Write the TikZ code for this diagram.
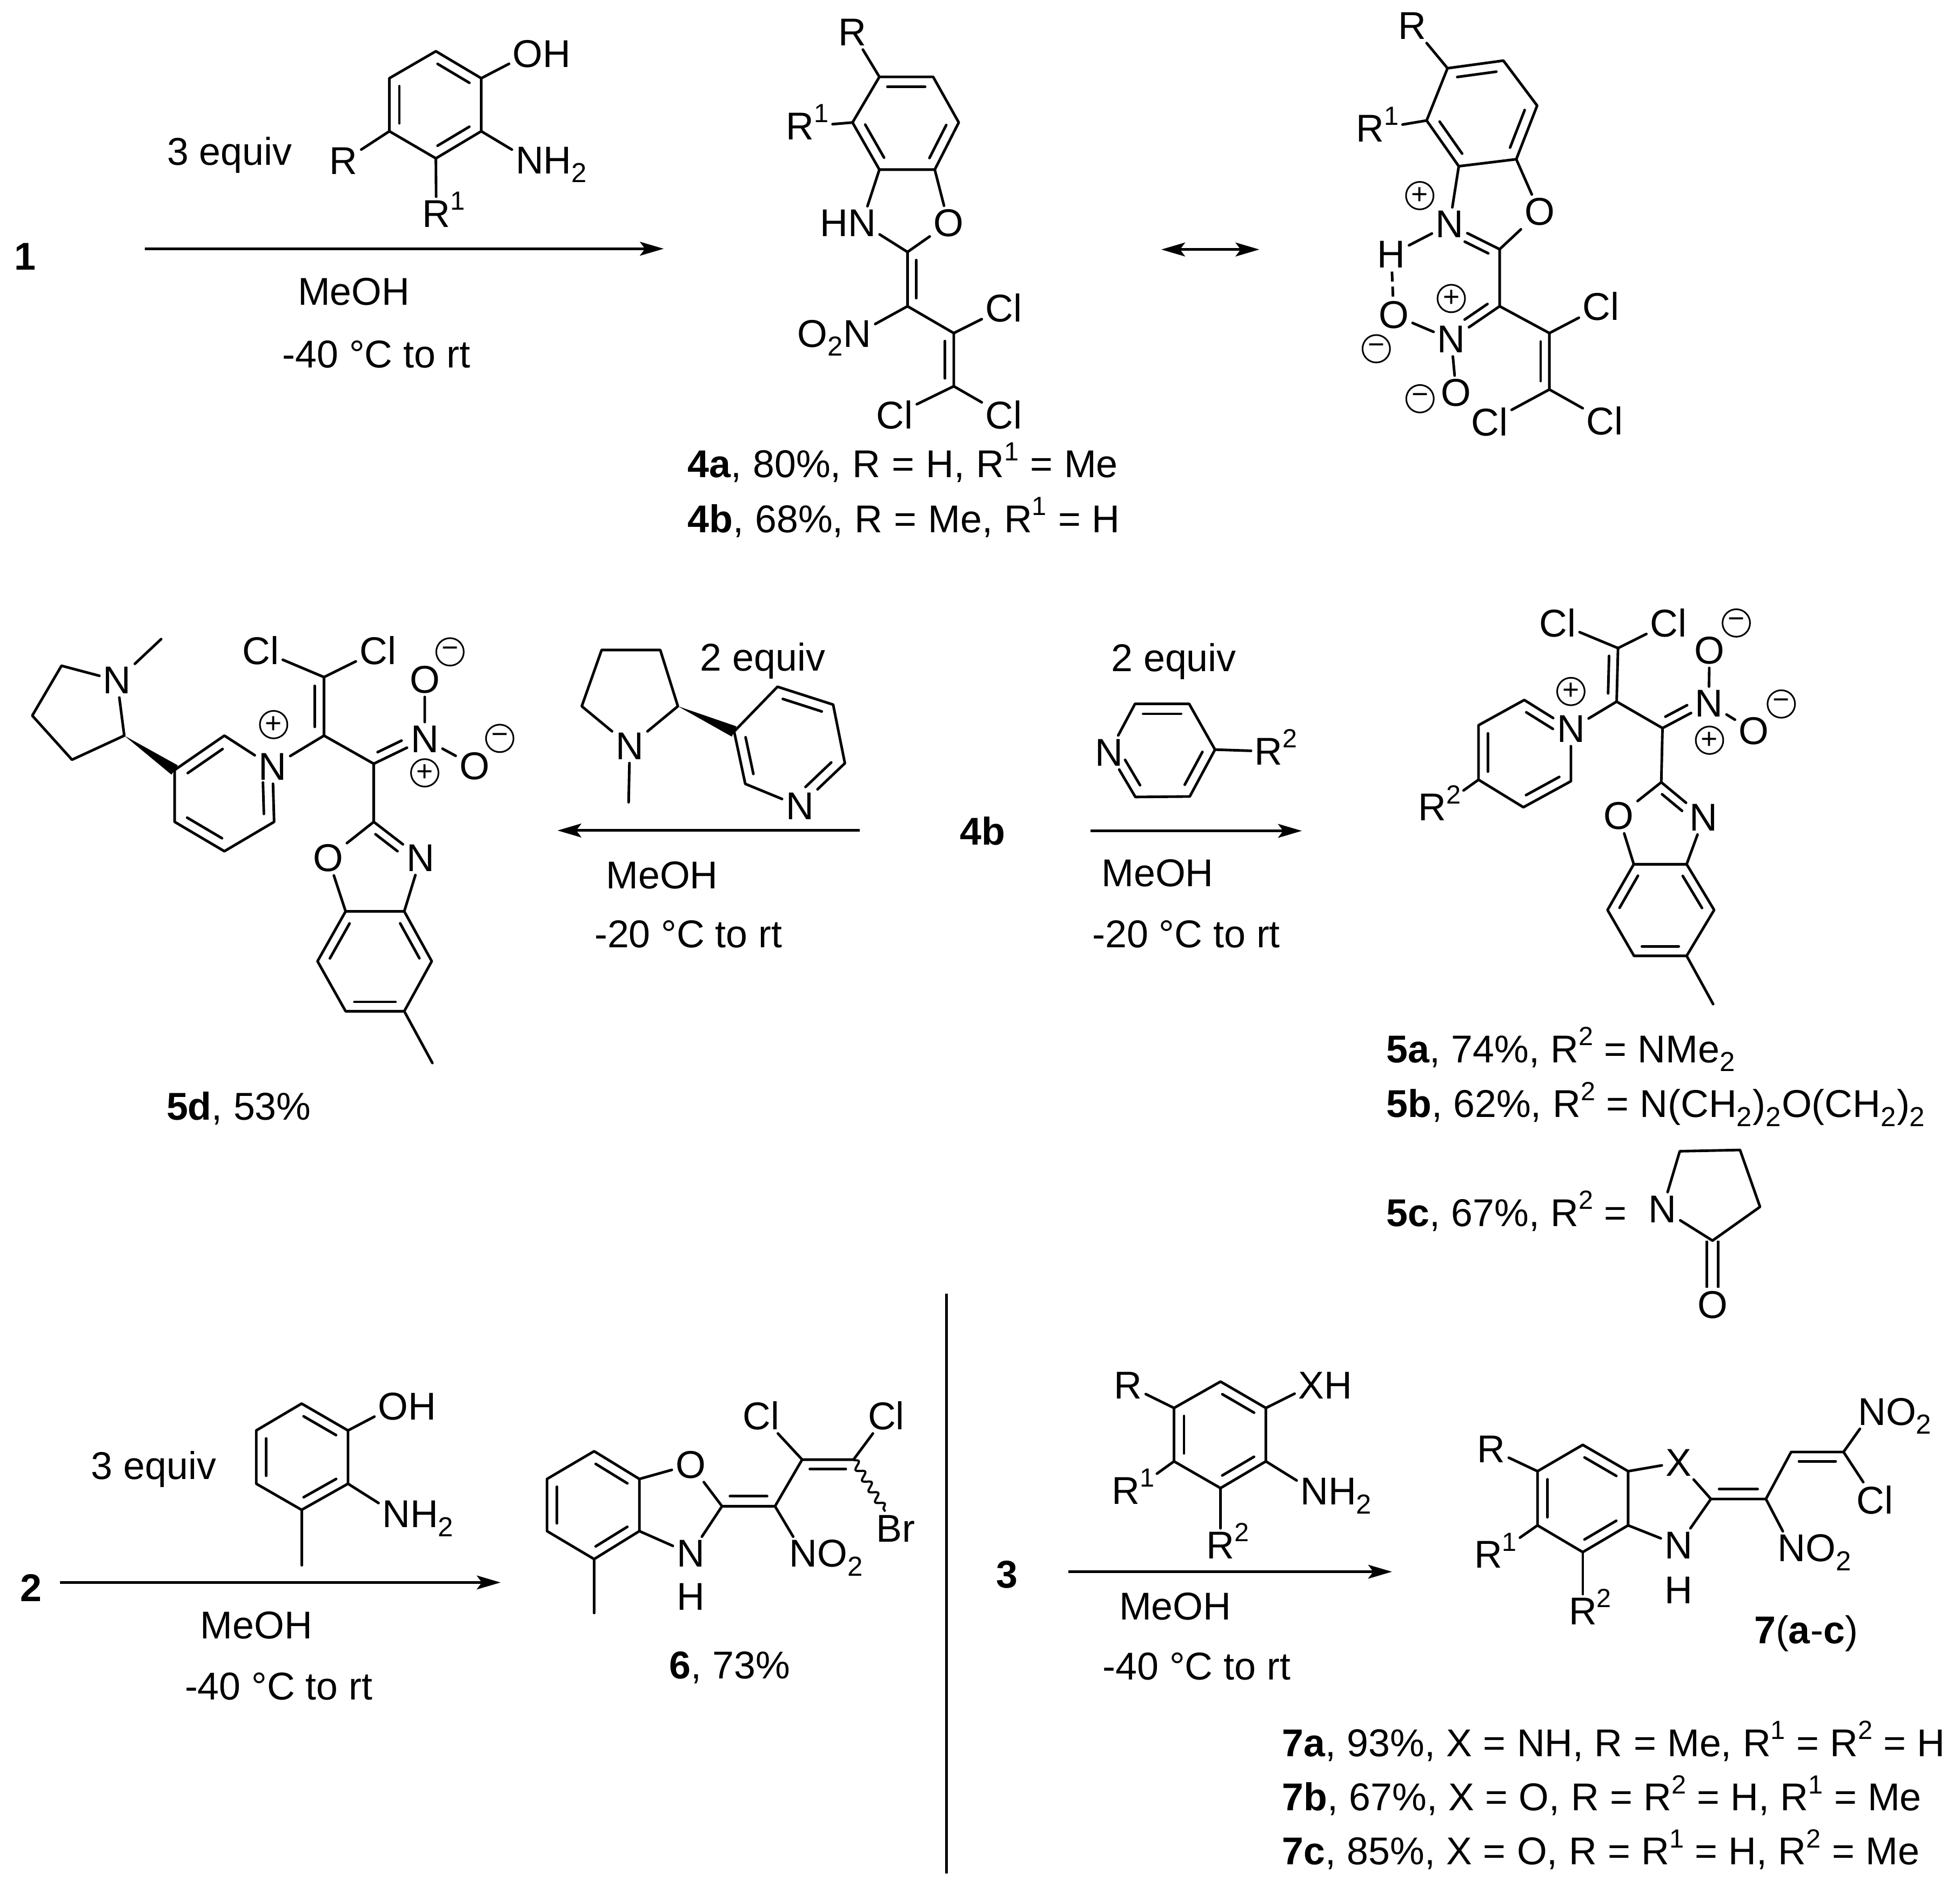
\documentclass[tikz,border=0pt]{standalone}
\usepackage{fontspec}
\setmainfont{Liberation Sans}
\usepackage{tikz}
\usetikzlibrary{arrows.meta,calc,decorations.pathmorphing}
\newcommand{\up}[1]{\smash{\raisebox{.44em}{\fontsize{21}{21}\selectfont #1}}}
\newcommand{\dn}[1]{\smash{\raisebox{-.23em}{\fontsize{22}{22}\selectfont #1}}\kern.6pt}
\newcommand{\rt}[1]{\rlap{\smash{#1}}}
\newcommand{\lf}[1]{\llap{\smash{#1}}}
\newcommand{\labfont}{\fontsize{31}{37}\selectfont\spaceskip 9.1pt\relax}
\newcommand{\labtight}{\fontsize{31}{37}\selectfont\spaceskip 8.8pt\relax}
% inner line of a double bond
\newcommand{\dblin}[4][.85]{\draw[bond] ($(#2)!.15!(#3)!#4!90:(#3)$) -- ($(#2)!#1!(#3)!#4!90:(#3)$);}
\newcommand{\wedgebond}[2]{\fill (#1) -- ($(#2)!4.5pt!90:(#1)$) -- ($(#2)!4.5pt!-90:(#1)$) -- cycle;}
\tikzset{
  bond/.style={line width=2.1pt, line cap=round, line join=round},
  rxn/.style={line width=2.2pt, -{Stealth[length=19pt,width=11pt,inset=4pt]}},
  rxnboth/.style={line width=2.2pt, {Stealth[length=19pt,width=11pt,inset=4pt]}-{Stealth[length=19pt,width=11pt,inset=4pt]}},
  atom/.style={inner sep=3pt, outer sep=0pt, font=\fontsize{31}{37}\selectfont},
  lab/.style={inner sep=0pt, anchor=base west, font=\labfont},
  labt/.style={inner sep=0pt, anchor=base west, font=\labtight},
  cen/.style={inner sep=0pt, anchor=base, font=\fontsize{31}{37}\selectfont},
  chg/.style={circle, draw, line width=1.3pt, inner sep=0pt, minimum size=22pt, font=\fontsize{23}{23}\selectfont}
}
\begin{document}
\begin{tikzpicture}[x=1pt,y=-1pt]
  \useasboundingbox (0,0) rectangle (1568,1509.6);
  \fill[white] (0,0) rectangle (1568,1509.6);

  % Reaction of 1
  \node[cen] (cmpA) at (20,216) {\textbf{1}};
  \coordinate (arAs) at (116,199);
  \coordinate (arAe) at (531,199);
  \draw[rxn] (arAs) -- (arAe);
  \node[cen] (eqA) at (183.6,132) {3 equiv};
  \node[cen] (solA) at (283,244) {MeOH};
  \node[cen] (tmpA) at (301,294) {-40 °C to rt};

  \coordinate (rT) at (348.7,41);
  \coordinate (rA) at (385,62.6);
  \coordinate (rB) at (385,105);
  \coordinate (rC) at (348.7,126.7);
  \coordinate (rD) at (311.5,105);
  \coordinate (rE) at (311.5,62.6);
  \node[atom] (rOH) at (422.3,43.2) {O\rt{H}};
  \node[atom] (rNH) at (423.7,128.2) {N\rt{H\dn{2}}};
  \node[atom] (rR) at (274.8,128.9) {R};
  \node[atom] (rRa) at (349,171) {R\rt{\up{1}}};
  \draw[bond] (rT)--(rA)--(rB)--(rC)--(rD)--(rE)--cycle;
  \dblin{rT}{rA}{-8pt} \dblin{rB}{rC}{-8pt} \dblin{rD}{rE}{-8pt}
  \draw[bond] (rA) -- (rOH);
  \draw[bond] (rB) -- (rNH);
  \draw[bond] (rD) -- (rR);
  \draw[bond] (rC) -- (rRa);

  % 4a, 4b
  \coordinate (aC5) at (703.5,61.5);
  \coordinate (aC6) at (746.5,61.5);
  \coordinate (aC7) at (767,98);
  \coordinate (aC7a) at (747.8,135.7);
  \coordinate (aC3a) at (703.5,135.7);
  \coordinate (aC4) at (682,98);
  \coordinate (aC2) at (726,201.6);
  \coordinate (aCa) at (726,245);
  \coordinate (aCb) at (763,266.5);
  \coordinate (aCc) at (763,309);
  \node[atom] (aR) at (682,26) {R};
  \node[atom] (aRa) at (646,101) {R\up{1}};
  \node[atom] (aN) at (689.5,178.6) {\lf{H}N};
  \node[atom] (aO) at (758.8,178.6) {O};
  \node[atom] (aNb) at (686,267) {\lf{O\dn{2}}N};
  \node[atom] (aCla) at (803,246.5) {Cl};
  \node[atom] (aClb) at (715.8,332) {Cl};
  \node[atom] (aClc) at (803,332) {Cl};
  \draw[bond] (aC5)--(aC6)--(aC7)--(aC7a)--(aC3a)--(aC4)--cycle;
  \dblin{aC5}{aC6}{-8pt} \dblin{aC7}{aC7a}{-8pt} \dblin{aC3a}{aC4}{-8pt}
  \draw[bond] (aC5) -- (aR);
  \draw[bond] (aC4) -- (aRa);
  \draw[bond] (aC3a) -- (aN) -- (aC2) -- (aO) -- (aC7a);
  \draw[bond] (aC2) -- (aCa) -- (aCb) -- (aCc);
  \dblin{aC2}{aCa}{7pt} \dblin{aCb}{aCc}{-7pt}
  \draw[bond] (aCa) -- (aNb);
  \draw[bond] (aCb) -- (aCla);
  \draw[bond] (aCc) -- (aClb);
  \draw[bond] (aCc) -- (aClc);
  \node[lab] (yA) at (550,382) {\textbf{4a}, 80\%, R = H, R\up{1} = Me};
  \node[lab] (yB) at (550,426) {\textbf{4b}, 68\%, R = Me, R\up{1} = H};

  \coordinate (arBs) at (929,199.6);
  \coordinate (arBe) at (1007.5,199.6);
  \draw[rxnboth] (arBs) -- (arBe);

  % resonance form
  \coordinate (bC5) at (1158,54.6);
  \coordinate (bC6) at (1202.7,48.5);
  \coordinate (bC7) at (1229.7,84.5);
  \coordinate (bC7a) at (1213,127.4);
  \coordinate (bC3a) at (1167,133);
  \coordinate (bC4) at (1141.3,96.4);
  \coordinate (bC2) at (1199.7,199.4);
  \coordinate (bCa) at (1199.7,245);
  \coordinate (bCb) at (1239.5,266.5);
  \coordinate (bCc) at (1239.5,311.6);
  \node[atom] (bR) at (1130,20.8) {R};
  \node[atom] (bRa) at (1102,103) {R\up{1}};
  \node[atom] (bN) at (1159.7,179.5) {N};
  \node[atom] (bO) at (1231.6,169.5) {O};
  \node[atom] (bH) at (1113,203.6) {H};
  \node[atom] (bOa) at (1115,252) {O};
  \node[atom] (bNb) at (1161,271.5) {N};
  \node[atom] (bOb) at (1165,314.4) {O};
  \node[atom] (bCla) at (1280.7,245) {Cl};
  \node[atom] (bClb) at (1191.7,337.4) {Cl};
  \node[atom] (bClc) at (1283.8,336.5) {Cl};
  \node[chg] (bPa) at (1135.8,156.5) {+};
  \node[chg] (bPb) at (1161,238.8) {+};
  \node[chg] (bMa) at (1101,279) {−};
  \node[chg] (bMb) at (1136,319) {−};
  \draw[bond] (bC5)--(bC6)--(bC7)--(bC7a)--(bC3a)--(bC4)--cycle;
  \dblin{bC5}{bC6}{-8pt} \dblin{bC7}{bC7a}{-8pt} \dblin{bC3a}{bC4}{-8pt}
  \draw[bond] (bC5) -- (bR);
  \draw[bond] (bC4) -- (bRa);
  \draw[bond] (bC3a) -- (bN) -- (bC2) -- (bO) -- (bC7a);
  \dblin[.62]{bC2}{bN}{7pt}
  \draw[bond] (bN) -- (bH);
  \draw[bond, line cap=butt, dash pattern=on 8pt off 4pt] (bH) -- (bOa);
  \draw[bond] (bC2) -- (bCa) -- (bCb) -- (bCc);
  \dblin{bCb}{bCc}{-7pt}
  \draw[bond] (bCa) -- (bNb);
  \dblin[.62]{bCa}{bNb}{-7pt}
  \draw[bond] (bOa) -- (bNb) -- (bOb);
  \draw[bond] (bCb) -- (bCla);
  \draw[bond] (bCc) -- (bClb);
  \draw[bond] (bCc) -- (bClc);

  % 5d
  \coordinate (qPa) at (49.2,532.6);
  \coordinate (qPb) at (25.8,572.5);
  \coordinate (qPc) at (57.6,607.8);
  \coordinate (qPd) at (99.4,588.5);
  \coordinate (qMe) at (128.9,511.3);
  \coordinate (qYe) at (139.7,616);
  \coordinate (qYf) at (179.5,588.5);
  \coordinate (qYg) at (219.3,657.5);
  \coordinate (qYh) at (179.5,681);
  \coordinate (qYi) at (139.7,657.5);
  \coordinate (qCb) at (259.2,588.5);
  \coordinate (qCa) at (259.2,541.7);
  \coordinate (qCc) at (299,611);
  \coordinate (qC2) at (299,657.5);
  \coordinate (qC7a) at (276.5,729.1);
  \coordinate (qC3a) at (323.4,729.1);
  \coordinate (qC4) at (345.4,769);
  \coordinate (qC5) at (323.4,809);
  \coordinate (qC6) at (276.5,809);
  \coordinate (qC7) at (254,769);
  \coordinate (qMf) at (345.9,850.4);
  \node[atom] (qNp) at (93.7,544.4) {N};
  \node[atom] (qNa) at (218,613.4) {N};
  \node[atom] (qCla) at (208.6,520.4) {Cl};
  \node[atom] (qClb) at (302.3,520.4) {Cl};
  \node[atom] (qNb) at (339.8,591.3) {N};
  \node[atom] (qOa) at (339.8,543.6) {O};
  \node[atom] (qOb) at (379.6,612.8) {O};
  \node[atom] (qOx) at (262.5,686.4) {O};
  \node[atom] (qNx) at (336.5,686.4) {N};
  \node[chg] (qPl) at (218.9,579.7) {+};
  \node[chg] (qPm) at (339.8,618.3) {+};
  \node[chg] (qMa) at (360,521.5) {−};
  \node[chg] (qMb) at (399.8,590.7) {−};
  \draw[bond] (qNp)--(qPa)--(qPb)--(qPc)--(qPd)--(qNp)--(qMe);
  \wedgebond{qPd}{qYe}
  \draw[bond] (qYe)--(qYf)--(qNa)--(qYg)--(qYh)--(qYi)--(qYe);
  \dblin{qYe}{qYf}{-8pt} \dblin[.72]{qYg}{qNa}{8pt} \dblin{qYh}{qYi}{-8pt}
  \draw[bond] (qNa) -- (qCb) -- (qCa);
  \dblin{qCa}{qCb}{-7.5pt}
  \draw[bond] (qCa) -- (qCla);
  \draw[bond] (qCa) -- (qClb);
  \draw[bond] (qCb) -- (qCc) -- (qC2);
  \draw[bond] (qCc) -- (qNb);
  \dblin[.62]{qCc}{qNb}{7pt}
  \draw[bond] (qOa) -- (qNb) -- (qOb);
  \draw[bond] (qC7a) -- (qOx) -- (qC2) -- (qNx) -- (qC3a);
  \dblin[.62]{qC2}{qNx}{-7pt}
  \draw[bond] (qC7a)--(qC3a)--(qC4)--(qC5)--(qC6)--(qC7)--cycle;
  \dblin{qC3a}{qC4}{-7.5pt} \dblin{qC5}{qC6}{-7.5pt} \dblin{qC7}{qC7a}{-7.5pt}
  \draw[bond] (qC5) -- (qMf);
  \node[labt] (yD) at (133,896) {\textbf{5d}, 53\%};

  % nicotine
  \coordinate (nPa) at (481.3,520);
  \coordinate (nPb) at (528.2,520);
  \coordinate (nPc) at (542.3,565);
  \coordinate (nPd) at (465.4,565);
  \coordinate (nMe) at (502.9,641.8);
  \coordinate (nYe) at (587.3,585.2);
  \coordinate (nYf) at (622,549.4);
  \coordinate (nYg) at (666.5,563.7);
  \coordinate (nYh) at (675.9,610.6);
  \coordinate (nYi) at (596.2,627.1);
  \node[atom] (nNp) at (503.8,596.8) {N};
  \node[atom] (nNy) at (639.8,645) {N};
  \draw[bond] (nNp)--(nPd)--(nPa)--(nPb)--(nPc)--(nNp)--(nMe);
  \wedgebond{nPc}{nYe}
  \draw[bond] (nYe)--(nYf)--(nYg)--(nYh)--(nNy)--(nYi)--(nYe);
  \dblin{nYf}{nYg}{-8pt} \dblin[.72]{nYh}{nNy}{-8pt} \dblin{nYi}{nYe}{-8pt}
  \node[cen] (eqC) at (610.2,536.5) {2 equiv};
  \coordinate (arCs) at (688,664.4);
  \coordinate (arCe) at (446,664.4);
  \draw[rxn] (arCs) -- (arCe);
  \node[cen] (solC) at (529.6,711) {MeOH};
  \node[cen] (tmpC) at (550.7,758) {-20 °C to rt};

  \node[cen] (cmpB) at (786,676) {\textbf{4b}};

  % 4-substituted pyridine
  \coordinate (cYa) at (908,563.1);
  \coordinate (cYb) at (951.3,563.1);
  \coordinate (cYc) at (972,599.7);
  \coordinate (cYd) at (951.8,637.2);
  \coordinate (cYe) at (908.3,637.6);
  \node[atom] (cN) at (887.3,602) {N};
  \node[atom] (cR) at (1015,601.1) {R\rt{\up{2}}};
  \draw[bond] (cN)--(cYa)--(cYb)--(cYc)--(cYd)--(cYe)--(cN);
  \dblin{cYa}{cYb}{-8pt} \dblin{cYc}{cYd}{-8pt} \dblin[.72]{cYe}{cN}{-8pt}
  \draw[bond] (cYc) -- (cR);
  \node[cen] (eqD) at (939,537) {2 equiv};
  \coordinate (arDs) at (872.4,664.7);
  \coordinate (arDe) at (1041.5,664.7);
  \draw[rxn] (arDs) -- (arDe);
  \node[cen] (solD) at (926,709) {MeOH};
  \node[cen] (tmpD) at (949,758) {-20 °C to rt};

  % 5a-c
  \coordinate (pYa) at (1219.4,560);
  \coordinate (pYb) at (1182.8,580.2);
  \coordinate (pYc) at (1182.8,623.8);
  \coordinate (pYd) at (1218.7,645.8);
  \coordinate (pYe) at (1256.7,625);
  \coordinate (pCa) at (1294.4,518.5);
  \coordinate (pCb) at (1293.3,561.3);
  \coordinate (pCc) at (1330,582.5);
  \coordinate (pC2) at (1329,625.8);
  \coordinate (pC7a) at (1307,691.4);
  \coordinate (pC3a) at (1349.3,691.4);
  \coordinate (pC4) at (1371.3,728);
  \coordinate (pC5) at (1349.3,764.7);
  \coordinate (pC6) at (1307.2,764.7);
  \coordinate (pC7) at (1286,728);
  \coordinate (pMe) at (1370.5,803.3);
  \node[atom] (pNa) at (1256.7,583.3) {N};
  \node[atom] (pR) at (1151.7,646) {R\up{2}};
  \node[atom] (pCla) at (1246,498.4) {Cl};
  \node[atom] (pClb) at (1334.7,498.4) {Cl};
  \node[atom] (pNb) at (1367,562.9) {N};
  \node[atom] (pOa) at (1367.6,520.4) {O};
  \node[atom] (pOb) at (1403,585) {O};
  \node[atom] (pOx) at (1295,652.8) {O};
  \node[atom] (pNx) at (1363,654) {N};
  \node[chg] (pPl) at (1256.7,553.2) {+};
  \node[chg] (pPm) at (1367.6,592.2) {+};
  \node[chg] (pMa) at (1389,498.4) {−};
  \node[chg] (pMb) at (1425,563.2) {−};
  \draw[bond] (pNa)--(pYa)--(pYb)--(pYc)--(pYd)--(pYe)--(pNa);
  \dblin[.72]{pYa}{pNa}{-7.5pt} \dblin{pYb}{pYc}{7.5pt} \dblin{pYd}{pYe}{7.5pt}
  \draw[bond] (pYc) -- (pR);
  \draw[bond] (pNa) -- (pCb) -- (pCa);
  \dblin{pCa}{pCb}{-7pt}
  \draw[bond] (pCa) -- (pCla);
  \draw[bond] (pCa) -- (pClb);
  \draw[bond] (pCb) -- (pCc) -- (pC2);
  \draw[bond] (pCc) -- (pNb);
  \dblin[.62]{pCc}{pNb}{7pt}
  \draw[bond] (pOa) -- (pNb) -- (pOb);
  \draw[bond] (pC7a) -- (pOx) -- (pC2) -- (pNx) -- (pC3a);
  \dblin[.62]{pC2}{pNx}{-7pt}
  \draw[bond] (pC7a)--(pC3a)--(pC4)--(pC5)--(pC6)--(pC7)--cycle;
  \dblin{pC3a}{pC4}{-7.5pt} \dblin{pC5}{pC6}{-7.5pt} \dblin{pC7}{pC7a}{-7.5pt}
  \draw[bond] (pC5) -- (pMe);
  \node[labt] (yE) at (1108.9,850) {\textbf{5a}, 74\%, R\up{2} = NMe\dn{2}};
  \node[labt] (yF) at (1108.9,894) {\textbf{5b}, 62\%, R\up{2} = N(CH\dn{2})\dn{2}O(CH\dn{2})\dn{2}};
  \node[labt] (yG) at (1108.9,981) {\textbf{5c}, 67\%, R\up{2} =};

  % lactam in 5c
  \coordinate (lA) at (1343.8,921);
  \coordinate (lB) at (1392,920);
  \coordinate (lC) at (1408,965.5);
  \coordinate (lD) at (1370,992.5);
  \node[atom] (lN) at (1330,967.4) {N};
  \node[atom] (lO) at (1370,1044) {O};
  \draw[bond, double, double distance=7pt, line cap=butt] (lD) -- (lO);
  \draw[bond] (lN)--(lA)--(lB)--(lC)--(lD)--(lN);

  % Reaction of 2
  \node[cen] (cmpC) at (25,1281) {\textbf{2}};
  \coordinate (arEs) at (48,1266);
  \coordinate (arEe) at (400.5,1266);
  \draw[rxn] (arEs) -- (arEe);
  \node[cen] (eqE) at (123,1183.5) {3 equiv};
  \node[cen] (solE) at (205,1311) {MeOH};
  \node[cen] (tmpE) at (223,1360) {-40 °C to rt};
  \coordinate (sT) at (241.3,1122.9);
  \coordinate (sA) at (278.4,1144.4);
  \coordinate (sB) at (278.4,1187);
  \coordinate (sC) at (241.3,1207.9);
  \coordinate (sD) at (205,1187);
  \coordinate (sE) at (205,1144.4);
  \coordinate (sMe) at (241.3,1252.2);
  \node[atom] (sOH) at (314.6,1125.4) {O\rt{H}};
  \node[atom] (sNH) at (317,1211.4) {N\rt{H\dn{2}}};
  \draw[bond] (sT)--(sA)--(sB)--(sC)--(sD)--(sE)--cycle;
  \dblin{sT}{sA}{-8pt} \dblin{sB}{sC}{-8pt} \dblin{sD}{sE}{-8pt}
  \draw[bond] (sA) -- (sOH);
  \draw[bond] (sB) -- (sNH);
  \draw[bond] (sC) -- (sMe);

  % 6
  \coordinate (hA) at (475.3,1161);
  \coordinate (hB) at (511.5,1183.2);
  \coordinate (hC) at (511.5,1224.9);
  \coordinate (hD) at (475.3,1247.3);
  \coordinate (hE) at (437.6,1224.9);
  \coordinate (hF) at (437.6,1183.2);
  \coordinate (hMe) at (475.3,1290.4);
  \coordinate (hC2) at (577.6,1205);
  \coordinate (hCa) at (620,1205);
  \coordinate (hCb) at (641.7,1167.7);
  \coordinate (hCc) at (682.8,1167.7);
  \node[atom] (hO) at (552.5,1171.7) {O};
  \node[atom] (hN) at (552.5,1243) {N};
  \node[atom] (hH) at (552.5,1277.4) {H};
  \node[atom] (hCla) at (609,1132.4) {Cl};
  \node[atom] (hClb) at (709,1132.4) {Cl};
  \node[atom] (hBr) at (716.5,1222.9) {Br};
  \node[atom] (hNb) at (642.7,1243) {N\rt{O\dn{2}}};
  \draw[bond] (hA)--(hB)--(hC)--(hD)--(hE)--(hF)--cycle;
  \dblin{hA}{hB}{-8pt} \dblin{hC}{hD}{-8pt} \dblin{hE}{hF}{-8pt}
  \draw[bond] (hD) -- (hMe);
  \draw[bond] (hB) -- (hO) -- (hC2) -- (hN) -- (hC);
  \draw[bond] (hC2) -- (hCa) -- (hCb) -- (hCc);
  \dblin{hC2}{hCa}{8pt} \dblin{hCb}{hCc}{-7.5pt}
  \draw[bond] (hCa) -- (hNb);
  \draw[bond] (hCb) -- (hCla);
  \draw[bond] (hCc) -- (hClb);
  \draw[line width=1.7pt, decorate, decoration={snake,amplitude=3pt,segment length=10pt}] (hCc) -- (hBr);
  \node[cen] (yH) at (583.8,1343) {\textbf{6}, 73\%};

  % divider
  \coordinate (divT) at (757,1035);
  \coordinate (divB) at (757,1499);
  \draw[line width=2.2pt] (divT) -- (divB);

  % Reaction of 3
  \node[cen] (cmpD) at (805.7,1270.4) {\textbf{3}};
  \coordinate (arFs) at (854.8,1257.4);
  \coordinate (arFe) at (1113.6,1257.4);
  \draw[rxn] (arFs) -- (arFe);
  \node[cen] (solF) at (940.2,1296) {MeOH};
  \node[cen] (tmpF) at (957.3,1344) {-40 °C to rt};
  \coordinate (uT) at (976.4,1105.3);
  \coordinate (uA) at (1012.7,1126.4);
  \coordinate (uB) at (1012.7,1169.1);
  \coordinate (uC) at (976.4,1190.5);
  \coordinate (uD) at (939.2,1169.1);
  \coordinate (uE) at (939.2,1126.4);
  \node[atom] (uR) at (902.4,1108.3) {R};
  \node[atom] (uXH) at (1049,1108.3) {X\rt{H}};
  \node[atom] (uNH) at (1051.5,1193.2) {N\rt{H\dn{2}}};
  \node[atom] (uRa) at (906.6,1192.6) {R\up{1}};
  \node[atom] (uRb) at (976.4,1236.3) {R\rt{\up{2}}};
  \draw[bond] (uT)--(uA)--(uB)--(uC)--(uD)--(uE)--cycle;
  \dblin{uT}{uA}{-8pt} \dblin{uB}{uC}{-8pt} \dblin{uD}{uE}{-8pt}
  \draw[bond] (uE) -- (uR);
  \draw[bond] (uA) -- (uXH);
  \draw[bond] (uB) -- (uNH);
  \draw[bond] (uD) -- (uRa);
  \draw[bond] (uC) -- (uRb);

  % 7a-c
  \coordinate (vA) at (1266.2,1155.9);
  \coordinate (vB) at (1302.5,1177);
  \coordinate (vC) at (1302.5,1220.3);
  \coordinate (vD) at (1266.2,1241.7);
  \coordinate (vE) at (1230,1220.3);
  \coordinate (vF) at (1230,1177);
  \coordinate (vC2) at (1368.7,1199.2);
  \coordinate (vCa) at (1412.7,1199.2);
  \coordinate (vCb) at (1432.9,1161.6);
  \coordinate (vCc) at (1474.8,1161.6);
  \node[atom] (vX) at (1342.8,1170) {X};
  \node[atom] (vN) at (1342.8,1236.3) {N};
  \node[atom] (vH) at (1342.8,1272.4) {H};
  \node[atom] (vR) at (1192.8,1159.5) {R};
  \node[atom] (vRa) at (1196.4,1243.8) {R\up{1}};
  \node[atom] (vRb) at (1266.2,1289) {R\rt{\up{2}}};
  \node[atom] (vNa) at (1497.6,1129.4) {N\rt{O\dn{2}}};
  \node[atom] (vNb) at (1433.4,1238.7) {N\rt{O\dn{2}}};
  \node[atom] (vCl) at (1500,1200.1) {Cl};
  \draw[bond] (vA)--(vB)--(vC)--(vD)--(vE)--(vF)--cycle;
  \dblin{vA}{vB}{-8pt} \dblin{vC}{vD}{-8pt} \dblin{vE}{vF}{-8pt}
  \draw[bond] (vF) -- (vR);
  \draw[bond] (vE) -- (vRa);
  \draw[bond] (vD) -- (vRb);
  \draw[bond] (vB) -- (vX) -- (vC2) -- (vN) -- (vC);
  \draw[bond] (vC2) -- (vCa) -- (vCb) -- (vCc);
  \dblin{vC2}{vCa}{8pt} \dblin{vCb}{vCc}{-7.5pt}
  \draw[bond] (vCa) -- (vNb);
  \draw[bond] (vCc) -- (vNa);
  \draw[bond] (vCc) -- (vCl);
  \node[atom] (yI) at (1444.8,1307) {\textbf{7}(\textbf{a}-\textbf{c})};
  \node[labt] (yJ) at (1025.6,1405) {\textbf{7a}, 93\%, X = NH, R = Me, R\up{1} = R\up{2} = H};
  \node[labt] (yK) at (1025.6,1448.6) {\textbf{7b}, 67\%, X = O, R = R\up{2} = H, R\up{1} = Me};
  \node[labt] (yL) at (1025.6,1491.7) {\textbf{7c}, 85\%, X = O, R = R\up{1} = H, R\up{2} = Me};
\end{tikzpicture}
\end{document}
